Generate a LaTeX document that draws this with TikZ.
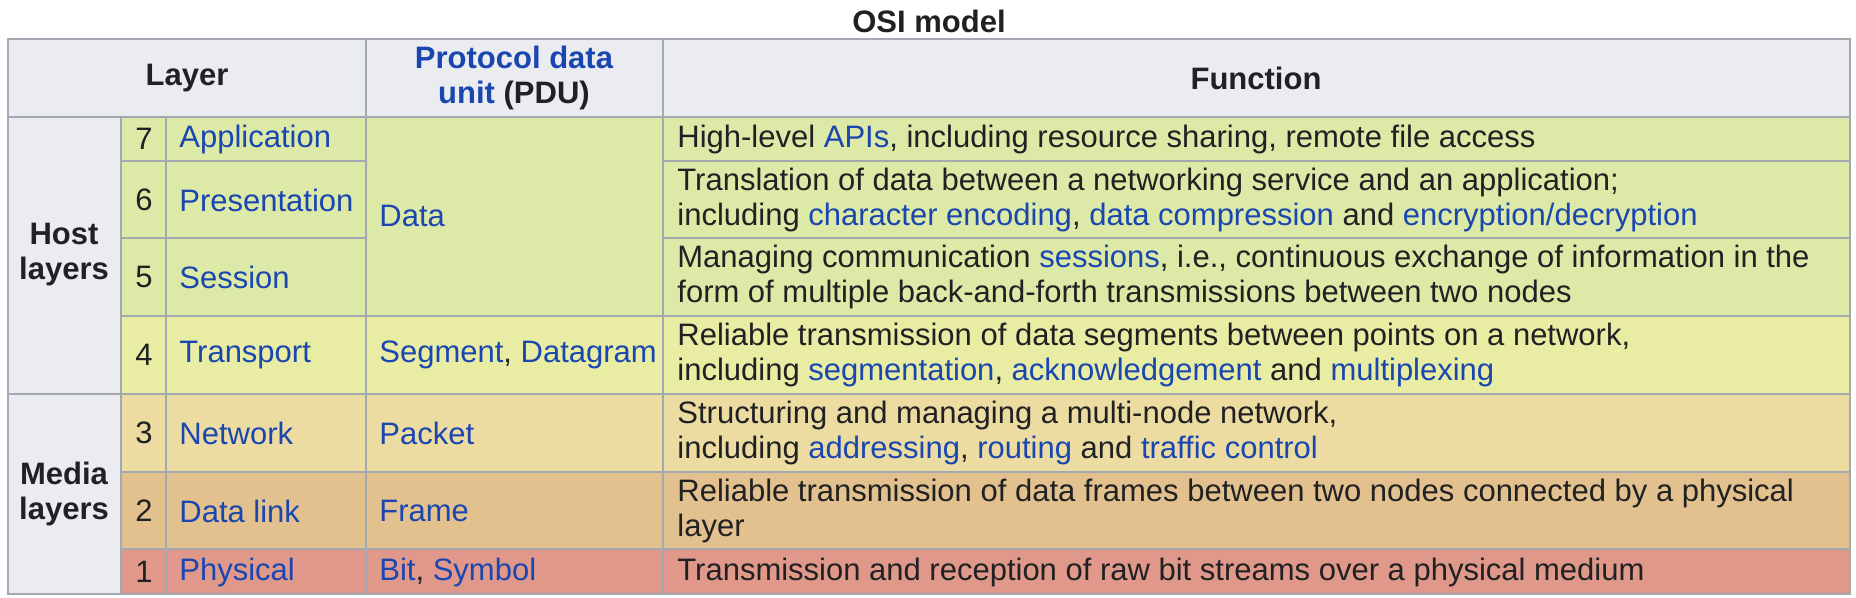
\documentclass[tikz,border=0pt]{standalone}
\usepackage{fontspec}
\setmainfont{Liberation Sans}
\usetikzlibrary{calc}
\usetikzlibrary{positioning}

\definecolor{ositext}{HTML}{202122}
\definecolor{osilink}{HTML}{1A46B0}
\definecolor{osiline}{HTML}{A2A9B1}
\definecolor{osihead}{HTML}{EAECF0}
\definecolor{osihost}{HTML}{DDE9A6}
\definecolor{ositrans}{HTML}{E9ECA3}
\definecolor{osinet}{HTML}{ECDCA2}
\definecolor{osilink2}{HTML}{E3C18F}
\definecolor{osiphys}{HTML}{DF988A}

\newcommand{\lk}[1]{\textcolor{osilink}{#1}}

\begin{document}
\begin{tikzpicture}[x=0.5pt,y=-0.5pt,
  every node/.style={font=\fontsize{15.5}{17.5}\selectfont,text=ositext,inner sep=0pt},
  cell/.style={anchor=west,align=left},
  head/.style={font=\fontsize{15.5}{17.5}\selectfont\bfseries,align=center},
  grid/.style={draw=osiline,line width=1pt}]

\useasboundingbox (0,0) rectangle (1856,598);

\node[head] (title) at (929,21) {OSI model};

\fill[osihead] (8,39) rectangle (1850,117);
\fill[osihead] (8,117) rectangle (121,594);
\fill[osihost] (121,117) rectangle (1850,316);
\fill[ositrans] (121,316) rectangle (1850,394);
\fill[osinet] (121,394) rectangle (1850,472);
\fill[osilink2] (121,472) rectangle (1850,549);
\fill[osiphys] (121,549) rectangle (1850,594);

\draw[grid] (8,39) rectangle (1850,594);
\draw[grid] (8,117) -- (1850,117);
\draw[grid] (8,394) -- (1850,394);
\foreach \y in {161,238} {
  \draw[grid] (121,\y) -- (366,\y);
  \draw[grid] (663,\y) -- (1850,\y);
}
\foreach \y in {316,472,549}
  \draw[grid] (121,\y) -- (1850,\y);
\foreach \x in {121,166}
  \draw[grid] (\x,117) -- (\x,594);
\foreach \x in {366,663}
  \draw[grid] (\x,39) -- (\x,594);

\node[head] (layer) at (187,78) {Layer};
\node[head] (pdu) at (514,78) {\lk{Protocol data}\\\lk{unit} (PDU)};
\node[head] (function) at (1256,78) {Function};

\node[head] (host) at (64,255) {Host\\layers};
\node[head] (media) at (64,494) {Media\\layers};

\foreach \n/\y/\name in {7/139/Application,6/200/Presentation,5/277/Session,4/355/Transport,3/433/Network,2/511/Data link,1/572/Physical} {
  \node (num\n) at (144,\y) {\n};
  \node[cell] (name\n) at (179,\y) {\lk{\name}};
}

\node[cell] (data) at (379,216) {\lk{Data}};
\node[cell] (segment) at (379,355) {\lk{Segment}, \lk{Datagram}};
\node[cell] (packet) at (379,433) {\lk{Packet}};
\node[cell] (frame) at (379,511) {\lk{Frame}};
\node[cell] (bit) at (379,572) {\lk{Bit}, \lk{Symbol}};

\node[cell] (func7) at (677,139) {High-level \lk{APIs}, including resource sharing, remote file access};
\node[cell] (func6) at (677,200) {Translation of data between a networking service and an application;\\including \lk{character encoding}, \lk{data compression} and \lk{encryption/decryption}};
\node[cell] (func5) at (677,277) {Managing communication \lk{sessions}, i.e., continuous exchange of information in the\\form of multiple back-and-forth transmissions between two nodes};
\node[cell] (func4) at (677,355) {Reliable transmission of data segments between points on a network,\\including \lk{segmentation}, \lk{acknowledgement} and \lk{multiplexing}};
\node[cell] (func3) at (677,433) {Structuring and managing a multi-node network,\\including \lk{addressing}, \lk{routing} and \lk{traffic control}};
\node[cell] (func2) at (677,511) {Reliable transmission of data frames between two nodes connected by a physical\\layer};
\node[cell] (func1) at (677,572) {Transmission and reception of raw bit streams over a physical medium};
\end{tikzpicture}
\end{document}
